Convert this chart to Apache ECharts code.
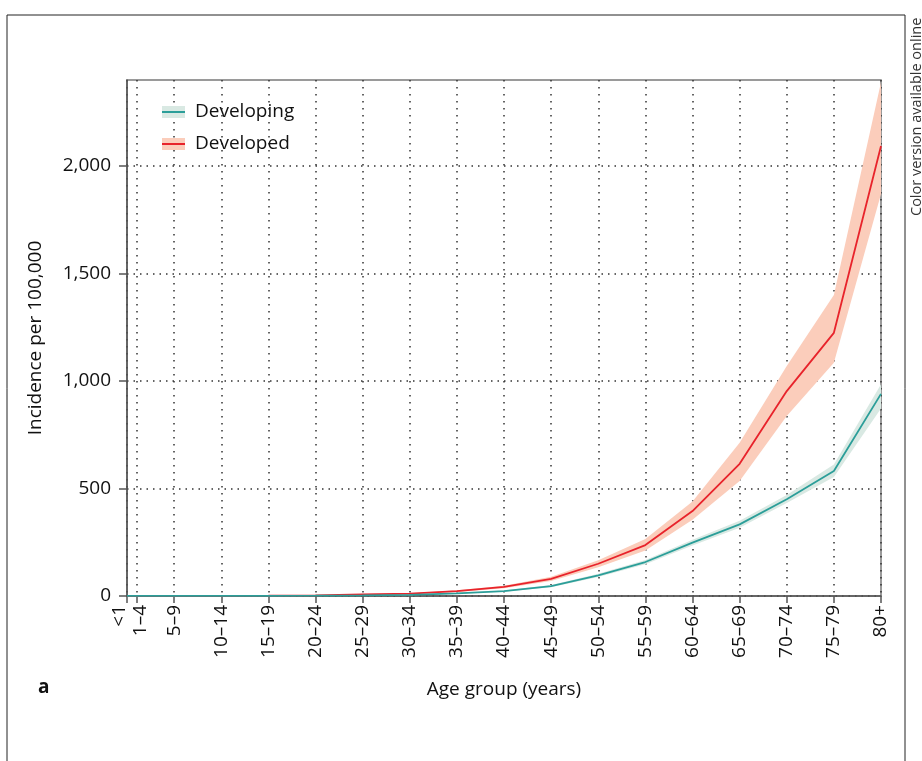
<!DOCTYPE html>
<html>
<head>
<meta charset="utf-8">
<script src="https://cdn.jsdelivr.net/npm/echarts@6/dist/echarts.min.js"></script>
<style>
html,body{margin:0;padding:0;background:#fff;}
#chart{width:922px;height:761px;}
</style>
</head>
<body>
<div id="chart"></div>
<script>
// Age groups: label and the start age used for the x position
const ageLabels = ['<1','1–4','5–9','10–14','15–19','20–24','25–29','30–34','35–39','40–44','45–49','50–54','55–59','60–64','65–69','70–74','75–79','80+'];
const ageStart  = [0, 1, 5, 10, 15, 20, 25, 30, 35, 40, 45, 50, 55, 60, 65, 70, 75, 80];

// Developing countries
const developing      = [0.3, 0.3, 0.3, 0.5, 0.8, 1.5, 3, 5, 12, 23, 46, 96, 158, 248, 333, 450, 581, 940];
const developingLower = [0.2, 0.2, 0.2, 0.4, 0.6, 1.2, 2.5, 4, 10, 20, 41, 88, 148, 235, 318, 432, 553, 872];
const developingUpper = [0.4, 0.4, 0.4, 0.6, 1.0, 1.8, 3.5, 6, 14, 26, 51, 104, 168, 262, 350, 470, 612, 985];

// Developed countries
const developed      = [0.5, 0.5, 0.5, 1, 1.5, 3, 8, 11, 23, 42, 80, 150, 237, 395, 615, 953, 1224, 2093];
const developedLower = [0.3, 0.3, 0.3, 0.7, 1.1, 2.3, 6.5, 9, 19, 36, 70, 134, 212, 355, 535, 837, 1085, 1870];
const developedUpper = [0.7, 0.7, 0.7, 1.3, 1.9, 3.7, 9.5, 13, 27, 48, 90, 166, 265, 440, 713, 1070, 1400, 2390];

const yTicks = [0, 500, 1000, 1500, 2000];

const FONT = 'Open Sans';
const FS = 19;
const pairs = (arr) => ageStart.map((a, i) => [a, arr[i]]);
const bandData = (lo, up) => ageStart.map((a, i) => [a, lo[i], up[i]]);
const labelOf = (v) => { const i = ageStart.indexOf(v); return i >= 0 ? ageLabels[i] : ''; };

// Band drawn as one polygon through the axis scales
function bandRenderer(lo, up, color) {
  return function (params, api) {
    if (params.dataIndex !== 0) return null;
    const top = ageStart.map((a, i) => api.coord([a, up[i]]));
    const bot = ageStart.map((a, i) => api.coord([a, lo[i]])).reverse();
    return {
      type: 'polygon',
      shape: {points: top.concat(bot)},
      style: {fill: color},
      silent: true
    };
  };
}

const chart = echarts.init(document.getElementById('chart'), null, {renderer: 'canvas'});

const RED_BAND = '#fbcdbb';
const TEAL_BAND = '#d9e9e3';
const RED = '#e8232b';
const TEAL = '#2b9e99';

const option = {
  backgroundColor: '#fff',
  animation: false,
  textStyle: {fontFamily: FONT},
  graphic: [
    {type: 'rect', shape: {x: 7, y: 15, width: 898, height: 780}, style: {fill: 'none', stroke: '#222', lineWidth: 1}, silent: true},
    {type: 'text', left: 38, top: 678, style: {text: 'a', font: 'bold 19px ' + FONT, fill: '#111'}},
    {type: 'text', x: 917, y: 216, rotation: Math.PI / 2, style: {text: 'Color version available online', font: '14.5px ' + FONT, fill: '#333', align: 'left', verticalAlign: 'middle'}}
  ],
  grid: {left: 127, right: 41, top: 80, bottom: 165, show: true, borderColor: '#7a7a7a', borderWidth: 1.5, backgroundColor: 'transparent'},
  legend: [
    {
      data: ['Developing', 'Developed'],
      orient: 'vertical', left: 157, top: 97, itemWidth: 23, itemHeight: 12, itemGap: 12,
      icon: 'rect', selectedMode: false,
      textStyle: {fontFamily: FONT, fontSize: FS, color: '#111', lineHeight: 20, padding: [0, 0, 0, 5]}
    },
    {
      data: ['Developing line', 'Developed line'],
      orient: 'vertical', left: 157, top: 97, itemWidth: 23, itemHeight: 2, itemGap: 12,
      icon: 'rect', selectedMode: false,
      formatter: (n) => n.replace(' line', ''),
      textStyle: {fontFamily: FONT, fontSize: FS, color: 'rgba(0,0,0,0)', lineHeight: 20, padding: [0, 0, 0, 5]}
    }
  ],
  xAxis: {
    type: 'value', min: 0, max: 80,
    axisLine: {show: true, lineStyle: {color: '#555', width: 1.5}},
    axisTick: {show: true, length: 7, inside: false, customValues: ageStart, lineStyle: {color: '#555', width: 1.5}},
    axisLabel: {
      customValues: ageStart, rotate: 90, margin: 9, fontSize: FS, color: '#111', fontFamily: FONT,
      formatter: (v) => {
        if (v === 0) return '{a|<1}';
        if (v === 1) return '{b|1–4}';
        return labelOf(v);
      },
      rich: {
        a: {fontSize: FS, fontFamily: FONT, color: '#111', padding: [0, 0, 14, 0]},
        b: {fontSize: FS, fontFamily: FONT, color: '#111', padding: [8, 0, 0, 0]}
      }
    },
    splitLine: {show: true, lineStyle: {color: '#333', type: [1.5, 5.5], width: 1.5}},
    name: 'Age group (years)', nameLocation: 'middle', nameGap: 84,
    nameTextStyle: {fontSize: FS, color: '#111', fontFamily: FONT}
  },
  yAxis: {
    type: 'value', min: 0, max: 2400, interval: 500,
    axisLine: {show: true, lineStyle: {color: '#555', width: 1.5}},
    axisTick: {show: true, length: 8, customValues: yTicks, lineStyle: {color: '#555', width: 1.5}},
    axisLabel: {
      customValues: yTicks, fontSize: FS, color: '#111', margin: 16, fontFamily: FONT,
      formatter: (v) => v.toLocaleString('en-US')
    },
    splitLine: {show: true, lineStyle: {color: '#333', type: [1.5, 5], width: 1.5}},
    name: 'Incidence per 100,000', nameLocation: 'middle', nameGap: 82,
    nameTextStyle: {fontSize: FS, color: '#111', fontFamily: FONT}
  },
  series: [
    {name: 'Developed', type: 'custom', data: bandData(developedLower, developedUpper),
      encode: {x: 0, y: [1, 2]}, itemStyle: {color: RED_BAND},
      renderItem: bandRenderer(developedLower, developedUpper, RED_BAND), z: 1},
    {name: 'Developing', type: 'custom', data: bandData(developingLower, developingUpper),
      encode: {x: 0, y: [1, 2]}, itemStyle: {color: TEAL_BAND},
      renderItem: bandRenderer(developingLower, developingUpper, TEAL_BAND), z: 1},
    {name: 'Developed line', type: 'line', data: pairs(developed), symbol: 'none', z: 3,
      itemStyle: {color: RED}, lineStyle: {color: RED, width: 1.8}},
    {name: 'Developing line', type: 'line', data: pairs(developing), symbol: 'none', z: 3,
      itemStyle: {color: TEAL}, lineStyle: {color: TEAL, width: 1.8}}
  ]
};
chart.setOption(option);
</script>
</body>
</html>
